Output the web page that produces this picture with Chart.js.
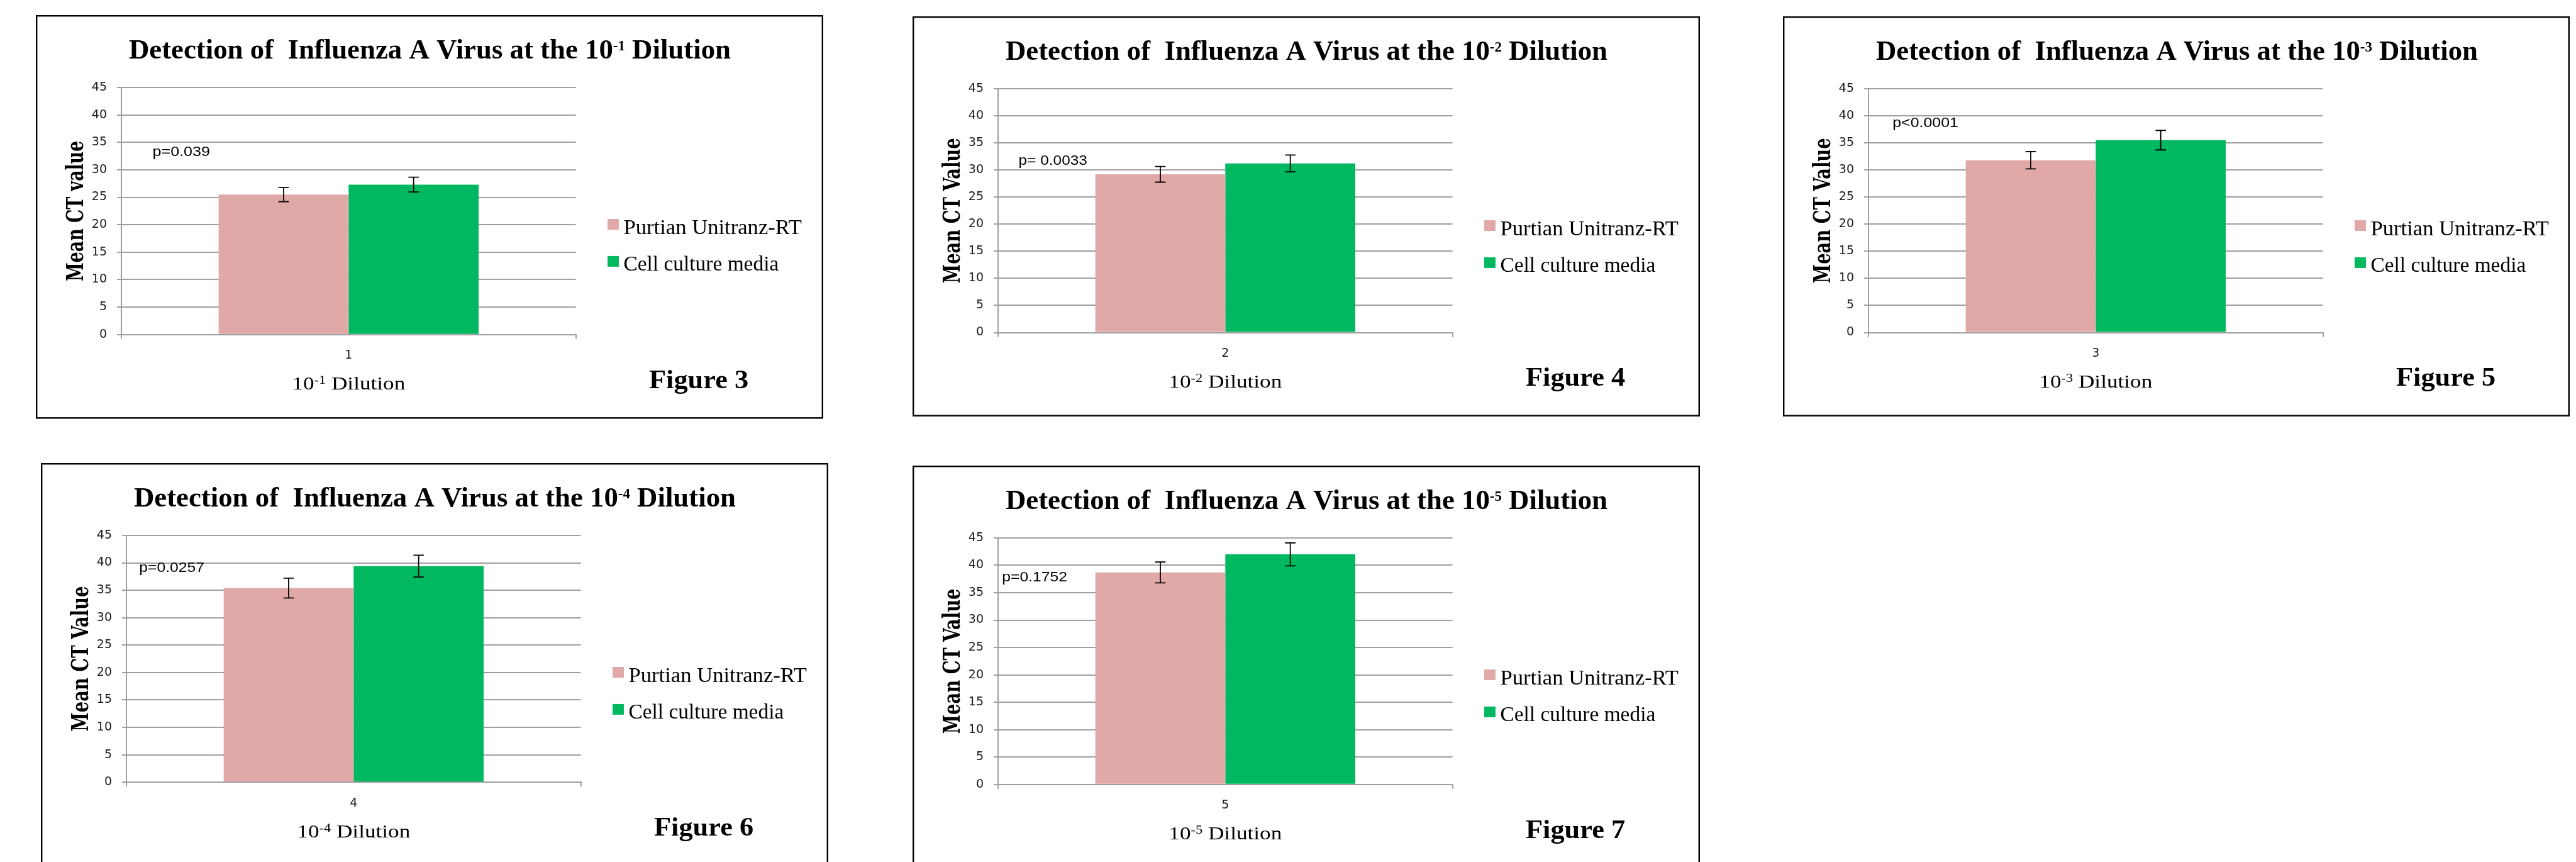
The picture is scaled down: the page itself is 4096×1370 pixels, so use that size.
<!DOCTYPE html>
<html lang="en">
<head>
  <meta charset="UTF-8" />
  <title>Detection of Influenza A Virus - Dilution Series</title>
  <script src="https://cdn.jsdelivr.net/npm/chart.js"></script>
  <style>
    html, body { margin: 0; padding: 0; background: #fff; overflow: hidden; }
    body { width: 4096px; height: 1370px; position: relative; }
    canvas { position: absolute; display: block; }
  </style>
</head>
<body>
<script>
  // ---- values ----
  const categories   = ['1', '2', '3', '4', '5'];
  const dilutionExp  = ['-1', '-2', '-3', '-4', '-5'];
  const figureLabels = ['Figure 3', 'Figure 4', 'Figure 5', 'Figure 6', 'Figure 7'];
  const seriesNames  = ['Purtian Unitranz-RT', 'Cell culture media'];
  const purtianCT    = [25.5, 29.2, 31.8, 35.4, 38.7];
  const purtianErr   = [1.3, 1.45, 1.6, 1.8, 1.9];
  const cellMediaCT  = [27.3, 31.2, 35.5, 39.4, 42.0];
  const cellMediaErr = [1.35, 1.55, 1.8, 2.0, 2.1];
  const pValues      = ['p=0.039', 'p= 0.0033', 'p<0.0001', 'p=0.0257', 'p=0.1752'];
  const yTitles      = ['Mean CT value', 'Mean CT Value', 'Mean CT Value', 'Mean CT Value', 'Mean CT Value'];
  const yMin = 0, yMax = 45, yStep = 5;

  // ---- layout, in reference pixels (scaled by S when drawn) ----
  const S = 0.942;
  const PINK = '#E0A8A7';
  const GREEN = '#00B85F';
  const GRID = '#a0a0a0';
  const boxes = [
    { x: 61,   y: 25,  w: 1329, h: 681, bottom: 539,   p: [197, 238, 97]  },
    { x: 1540, y: 28,  w: 1329, h: 675, bottom: 533.5, p: [179, 250, 116] },
    { x: 3010, y: 28,  w: 1328, h: 675, bottom: 533.5, p: [185, 187, 111] },
    { x: 69,   y: 781, w: 1329, h: 760, bottom: 538.4, p: [166, 184, 110] },
    { x: 1540, y: 786, w: 1329, h: 760, bottom: 538,   p: [151, 195, 110] }
  ];
  const PLOT_L = 144.4, PLOT_R = 911.5, PLOT_T = 122;
  const XAXIS_H = 60;

  const SERIF = '"Liberation Serif", "Times New Roman", serif';

  // draws a run of text pieces, stretched/squeezed to a target width
  function drawParts(ctx, parts, x, base, targetW, align) {
    let natural = 0;
    parts.forEach(p => { ctx.font = p.font; p.w = ctx.measureText(p.text).width; natural += p.w; });
    const sx = targetW / natural;
    ctx.save();
    ctx.translate(align === 'center' ? x - targetW / 2 : x, base);
    ctx.scale(sx, 1);
    ctx.textAlign = 'left';
    ctx.textBaseline = 'alphabetic';
    ctx.fillStyle = '#000';
    let cx = 0;
    parts.forEach(p => { ctx.font = p.font; ctx.fillText(p.text, cx, p.dy || 0); cx += p.w; });
    ctx.restore();
  }

  const decor = {
    id: 'decor',
    afterDatasetsDraw(chart) {
      const ctx = chart.ctx;
      const y = chart.scales.y;
      ctx.save();
      ctx.strokeStyle = '#000';
      ctx.lineWidth = 1.8;
      chart.data.datasets.forEach((ds, di) => {
        chart.getDatasetMeta(di).data.forEach((bar, j) => {
          const top = y.getPixelForValue(ds.data[j] + ds.errors[j]);
          const bot = y.getPixelForValue(ds.data[j] - ds.errors[j]);
          const cap = 8.3;
          ctx.beginPath();
          ctx.moveTo(bar.x, top); ctx.lineTo(bar.x, bot);
          ctx.moveTo(bar.x - cap, top); ctx.lineTo(bar.x + cap, top);
          ctx.moveTo(bar.x - cap, bot); ctx.lineTo(bar.x + cap, bot);
          ctx.stroke();
        });
      });
      ctx.restore();
    },
    afterDraw(chart) {
      const ctx = chart.ctx;
      const i = chart.options.plugins.decor.index;
      const b = boxes[i];
      const W = chart.width;
      const area = chart.chartArea;

      // frame
      ctx.save();
      ctx.strokeStyle = '#000';
      ctx.lineWidth = 2.4;
      ctx.strokeRect(1.2, 1.2, W - 2.4, b.h * S - 2.4);
      ctx.restore();

      // title
      drawParts(ctx, [
        { text: 'Detection of  Influenza A Virus at the 10', font: 'bold 45px ' + SERIF },
        { text: dilutionExp[i], font: 'bold 23px ' + SERIF, dy: -12.7 },
        { text: ' Dilution', font: 'bold 45px ' + SERIF }
      ], 665 * S, 73 * S, 1016 * S, 'center');

      // y axis title
      ctx.save();
      ctx.translate(80 * S, (area.top + area.bottom) / 2);
      ctx.rotate(-Math.PI / 2);
      drawParts(ctx, [{ text: yTitles[i], font: 'bold 38px "DejaVu Serif", serif' }],
        0, 0, (i === 0 ? 237 : 245) * S, 'center');
      ctx.restore();

      // x axis title
      drawParts(ctx, [
        { text: '10', font: '30px ' + SERIF },
        { text: dilutionExp[i], font: '19px ' + SERIF, dy: -9.2 },
        { text: ' Dilution', font: '30px ' + SERIF }
      ], (area.left + area.right) / 2, (b.bottom + 93) * S, 191 * S, 'center');

      // figure label
      drawParts(ctx, [{ text: figureLabels[i], font: 'bold 43px ' + SERIF }],
        1035 * S, (b.bottom + 90) * S, 168 * S, 'left');

      // legend
      const colors = [PINK, GREEN];
      const widths = [301, 262];
      seriesNames.forEach((name, k) => {
        const top = (344 + k * 62.5) * S;
        ctx.fillStyle = colors[k];
        ctx.fillRect(965 * S, top, 19 * S, 18 * S);
        drawParts(ctx, [{ text: name, font: '34px ' + SERIF }],
          992 * S, top + 25 * S, widths[k] * S, 'left');
      });

      // p value note
      drawParts(ctx, [{ text: pValues[i], font: '22px "Liberation Sans", Arial, sans-serif' }],
        b.p[0] * S, b.p[1] * S, b.p[2] * S, 'left');
    }
  };

  Chart.defaults.font.family = '"DejaVu Sans", sans-serif';

  boxes.forEach((b, i) => {
    const canvas = document.createElement('canvas');
    const W = Math.round(b.w * S), H = Math.round(b.h * S);
    canvas.width = W; canvas.height = H;
    canvas.style.left = Math.round(b.x * S) + 'px';
    canvas.style.top = Math.round(b.y * S) + 'px';
    canvas.style.width = W + 'px';
    canvas.style.height = H + 'px';
    document.body.appendChild(canvas);

    new Chart(canvas.getContext('2d'), {
      type: 'bar',
      data: {
        labels: [categories[i]],
        datasets: [
          { label: seriesNames[0], data: [purtianCT[i]], errors: [purtianErr[i]], backgroundColor: PINK },
          { label: seriesNames[1], data: [cellMediaCT[i]], errors: [cellMediaErr[i]], backgroundColor: GREEN }
        ]
      },
      options: {
        responsive: false,
        animation: false,
        devicePixelRatio: 1,
        categoryPercentage: 0.572,
        barPercentage: 1,
        layout: {
          padding: {
            left: 0,
            top: PLOT_T * S,
            right: W - PLOT_R * S,
            bottom: H - b.bottom * S - XAXIS_H
          }
        },
        plugins: {
          legend: { display: false },
          title: { display: false },
          tooltip: { enabled: false },
          decor: { index: i }
        },
        scales: {
          x: {
            grid: { offset: true, drawOnChartArea: false, drawTicks: true, tickLength: 7, color: GRID, lineWidth: 2 },
            border: { display: true, color: GRID, width: 2 },
            ticks: { color: '#1a1a1a', font: { size: 19 }, padding: 15 },
            afterFit: s => { s.height = XAXIS_H; }
          },
          y: {
            min: yMin,
            max: yMax,
            ticks: { stepSize: yStep, color: '#1a1a1a', font: { size: 19 }, padding: 16 },
            grid: { color: GRID, lineWidth: 2, tickLength: 7 },
            border: { display: true, color: GRID, width: 2 },
            afterFit: s => { s.width = PLOT_L * S; }
          }
        }
      },
      plugins: [decor]
    });
  });
</script>
</body>
</html>
